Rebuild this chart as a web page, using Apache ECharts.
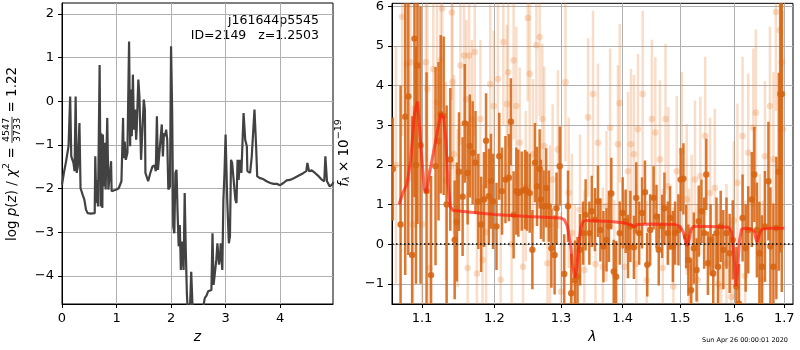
<!DOCTYPE html>
<html><head><meta charset="utf-8">
<script src="https://cdn.jsdelivr.net/npm/echarts@6/dist/echarts.min.js"></script>
<style>html,body{margin:0;padding:0;background:#fff}#c{width:800px;height:350px}</style>
</head><body><div id="c"></div><script>
// ---------- left panel: log p(z) ----------
const zGrid = [0,0.04,0.07,0.10,0.12,0.15,0.17,0.21,0.23,0.25,0.27,0.29,0.32,0.34,0.38,0.41,0.44,0.47,0.53,0.60,0.61,0.63,0.64,0.66,0.69,0.71,0.72,0.74,0.75,0.77,0.79,0.80,0.83,0.85,0.87,0.90,0.91,0.94,1.00,1.04,1.09,1.12,1.13,1.15,1.17,1.20,1.23,1.25,1.26,1.28,1.30,1.32,1.34,1.36,1.37,1.40,1.42,1.44,1.45,1.48,1.50,1.52,1.53,1.58,1.62,1.66,1.70,1.72,1.74,1.76,1.79,1.83,1.85,1.87,1.89,1.91,1.93,1.95,1.98,2.00,2.02,2.04,2.06,2.08,2.10,2.12,2.14,2.16,2.18,2.20,2.23,2.25,2.27,2.29,2.31,2.34,2.37,2.40,2.50,2.59,2.62,2.65,2.68,2.71,2.74,2.76,2.78,2.81,2.83,2.85,2.88,2.90,2.91,2.94,2.96,2.98,3.00,3.03,3.06,3.08,3.10,3.12,3.15,3.18,3.20,3.22,3.24,3.26,3.29,3.33,3.36,3.39,3.40,3.45,3.48,3.53,3.56,3.58,3.63,3.69,3.75,3.82,3.88,3.94,4.00,4.06,4.12,4.18,4.25,4.31,4.37,4.43,4.48,4.50,4.53,4.58,4.64,4.71,4.77,4.81,4.83,4.86,4.91,4.95,4.98];
const logPz = [-1.91,-1.60,-1.41,-1.38,-1.03,0.11,-1.26,-1.41,-1.60,0.11,-1.64,-1.49,-0.50,-1.99,-2.14,-2.25,-2.48,-2.56,-2.57,-2.56,-1.26,-2.33,-1.80,-2.41,0.83,-2.41,-0.73,-2.44,-0.76,-1.95,-0.95,-2.02,-0.38,-2.02,-1.99,-1.37,-2.06,-2.10,-2.02,-1.99,-1.83,-0.38,-1.30,-0.92,-1.34,-1.18,1.37,-1.03,0.27,-0.80,0.61,-0.65,-0.19,-0.88,-0.65,0.50,0.11,-0.88,-1.34,-1.37,0.04,-0.19,-1.64,-1.83,-1.64,-1.49,-1.47,-1.60,-0.34,-1.57,-1.53,-0.53,-1.26,-0.73,-0.80,-0.65,-0.88,-2.02,-1.95,1.26,-0.19,-2.86,-3.02,-1.64,-1.57,-2.56,-3.32,-2.83,-3.86,-3.21,-3.86,-2.10,-3.40,-4.39,-4.9,-4.99,-3.9,-4.9,-5.0,-4.7,-4.5,-4.45,-4.35,-4.38,-4.32,-3.02,-4.20,-4.16,-3.63,-3.25,-3.74,-3.55,-3.25,-3.86,-2.25,-1.64,-0.76,-2.25,-3.25,-3.09,-1.34,-1.41,-1.45,-2.25,-2.33,-1.34,-1.80,-1.34,-1.64,-0.27,-0.88,-1.03,-1.60,-1.64,-1.26,-0.19,-1.03,-1.72,-1.76,-1.78,-1.83,-1.87,-1.89,-1.89,-1.92,-1.87,-1.81,-1.80,-1.76,-1.72,-1.68,-1.64,-1.60,-1.41,-1.60,-1.58,-1.64,-1.72,-1.80,-1.83,-1.26,-1.83,-1.95,-1.91,-1.85];
const zTicks = [0,1,2,3,4];
const pzTicks = [-4,-3,-2,-1,0,1,2];

// ---------- right panel: spectrum ----------
const darkWave = [1.062,1.072,1.078,1.082,1.087,1.090,1.092,1.094,1.098,1.106,1.112,1.118,1.122,1.125,1.129,1.133,1.138,1.144,1.147,1.150,1.155,1.158,1.162,1.165,1.169,1.173,1.177,1.181,1.185,1.188,1.192,1.195,1.198,1.203,1.207,1.211,1.216,1.221,1.224,1.228,1.232,1.235,1.240,1.245,1.248,1.252,1.256,1.260,1.263,1.267,1.269,1.273,1.277,1.281,1.285,1.290,1.293,1.298,1.305,1.311,1.316,1.322,1.326,1.330,1.335,1.339,1.345,1.349,1.354,1.359,1.363,1.368,1.373,1.377,1.381,1.385,1.389,1.395,1.400,1.405,1.409,1.413,1.419,1.423,1.428,1.433,1.438,1.442,1.447,1.453,1.458,1.462,1.468,1.472,1.478,1.482,1.487,1.491,1.497,1.501,1.506,1.511,1.515,1.520,1.525,1.530,1.534,1.539,1.544,1.548,1.551,1.556,1.561,1.567,1.570,1.575,1.580,1.586,1.592,1.598,1.605,1.610,1.617,1.623,1.628,1.635,1.640,1.645,1.650,1.655,1.661,1.668,1.672,1.678,1.684,1.689,1.692,1.695];
const darkFlux = [1.9,0.5,3.22,3.73,-0.27,5.19,2.0,4.51,2.5,1.34,-0.78,1.97,2.6,3.28,3.24,1.0,2.14,0.11,0.56,1.83,1.2,3.05,1.80,2.48,2.31,2.06,1.08,0.5,1.13,2.61,1.21,1.59,1.08,0.45,2.22,1.34,1.63,1.68,3.09,0.74,1.34,1.29,1.34,1.38,1.34,1.29,-0.14,2.06,1.46,1.90,1.13,0.96,1.42,0.96,-0.10,-0.27,0.91,1.97,-0.75,0.96,-1.24,-0.91,-0.82,-0.14,0.28,0.74,0.28,0.83,0.62,1.08,0.36,-0.06,0.11,0.45,1.28,-0.69,-0.82,0.28,0.79,0.58,-0.06,0.45,-0.08,1.17,0.28,0.79,1.31,-0.52,0.36,1.17,0.70,-0.14,0.45,0.91,0.28,0.66,-0.06,0.28,0.36,1.63,1.65,0.19,-0.40,-1.16,-0.10,-0.65,0.58,0.83,0.28,1.76,-0.48,0.11,-0.74,0.28,-0.57,0.45,-0.14,0.28,-0.23,0.11,-1.07,-1.50,0.66,-0.10,0.36,1.13,1.76,0.36,-0.23,-0.57,0.45,1.59,-0.06,-0.57,0.41,1.83,3.79,3.79];
const darkErr = [1.3,3.5,4,4,3.5,4,3,4,3.5,3,2.5,2.5,2,2,2,2.5,1.8,1.5,1.5,1.5,1.5,1.5,1.3,1.3,1.3,1.3,1.2,1.2,1.2,1.2,1.2,1.2,1.2,1.1,1.1,1.1,1.1,1.1,1.1,1.1,1.1,1.1,1.0,1.0,1.0,1.0,1.0,1.0,1.0,1.0,1.0,0.9,1.0,0.9,1.0,1.0,0.9,1.0,1.0,0.9,1.0,1.0,1.0,0.9,0.8,0.9,0.8,0.9,0.8,0.9,0.8,0.9,0.8,0.9,0.9,0.8,0.9,0.8,0.9,0.8,0.8,0.9,0.8,0.9,0.8,0.9,0.8,0.8,0.9,0.8,0.8,0.9,0.8,0.9,0.8,0.8,0.9,0.8,0.9,0.8,0.9,0.8,0.9,0.8,0.9,0.8,0.9,0.8,0.9,0.9,0.8,0.9,1.0,0.9,1.0,0.9,1.0,0.9,1.0,1.0,1.0,1.0,1.1,1.1,1.1,1.2,1.2,1.2,1.3,1.3,1.4,1.5,1.5,1.6,1.8,2.5,4,5];

const lightWave = [1.066,1.074,1.080,1.085,1.088,1.092,1.096,1.100,1.105,1.107,1.110,1.115,1.120,1.125,1.127,1.132,1.140,1.141,1.143,1.148,1.152,1.157,1.160,1.162,1.164,1.168,1.172,1.175,1.180,1.183,1.188,1.194,1.199,1.205,1.209,1.213,1.218,1.220,1.225,1.228,1.232,1.237,1.242,1.246,1.249,1.252,1.257,1.262,1.267,1.271,1.274,1.279,1.283,1.287,1.295,1.300,1.307,1.312,1.317,1.322,1.330,1.337,1.343,1.351,1.355,1.359,1.367,1.373,1.379,1.386,1.392,1.395,1.403,1.409,1.414,1.419,1.423,1.426,1.434,1.441,1.450,1.456,1.464,1.469,1.474,1.479,1.488,1.494,1.503,1.512,1.516,1.521,1.527,1.532,1.537,1.546,1.555,1.564,1.570,1.576,1.586,1.595,1.600,1.607,1.617,1.622,1.628,1.638,1.643,1.651,1.657,1.661,1.671,1.678,1.683,1.691,1.695,1.697];
const lightFlux = [2.0,5.74,4.55,4.59,0.5,3.41,6.2,0.5,4.59,3.92,-0.6,4.42,3.58,4.64,5.95,1.6,5.85,4.09,2.27,0.91,4.51,4.76,3.66,-0.6,4.76,3.16,4.85,-0.74,3.16,-0.40,0.3,4.04,3.49,4.17,-0.9,5.10,3.54,4.34,0.0,4.64,3.49,2.56,-0.57,1.46,5.71,4.30,2.27,5.02,5.23,3.16,2.48,-0.48,0.5,1.63,2.39,-1.2,4.09,1.3,0.28,-1.0,0.87,-0.65,3.20,3.79,-0.5,2.56,-0.57,0.96,2.94,-0.78,2.52,3.56,-0.57,1.84,2.52,2.27,-0.5,2.90,3.79,-0.91,3.16,2.82,2.14,-0.6,3.16,1.46,-1.07,1.84,2.35,1.13,-0.6,0.36,1.63,-0.9,1.72,2.73,1.29,1.42,-1.0,-1.07,-0.48,-1.33,0.6,1.55,2.73,-0.8,2.31,2.94,3.32,-0.23,-0.9,2.22,3.49,2.14,5.86,5.40,4.59,2.90];
const lightErr = [3,3,3,3,3,3,3,2.5,2.5,2.5,2.5,2.5,2.5,2.5,2.5,2.5,2.2,2.2,2,2,2,2.1,2,1.9,2,2,2.1,1.9,2,1.9,2,2,1.9,2,1.9,2.1,2,1.9,2,2,2,1.9,2,1.9,2.1,2,1.9,2,2,1.9,2,1.9,2,1.9,2,2,2,1.9,2,2,1.9,2,2,2.1,1.9,2,2,1.9,2,1.9,2,2,1.9,2,1.9,2,2,1.9,2.1,2,2,1.9,2,2,1.9,2,2,1.9,2,1.9,2,1.9,2,1.9,2,2,1.9,2,2,1.9,2,1.9,2,2,2,1.9,2,2,2.1,2,2,1.9,2,2.2,2.5,3,3,3];

const modelWave = [1.070,1.075,1.080,1.085,1.090,1.094,1.098,1.103,1.106,1.110,1.115,1.120,1.125,1.129,1.132,1.135,1.138,1.142,1.20,1.25,1.29,1.300,1.305,1.310,1.315,1.318,1.322,1.325,1.328,1.331,1.335,1.34,1.38,1.40,1.415,1.42,1.425,1.45,1.49,1.500,1.506,1.510,1.513,1.516,1.520,1.525,1.57,1.590,1.596,1.600,1.604,1.607,1.611,1.615,1.62,1.635,1.640,1.645,1.648,1.651,1.655,1.67,1.70];
const modelFlux = [1.0,1.3,1.5,2.1,3.3,3.6,2.6,1.4,1.3,1.8,2.3,2.8,3.3,3.2,2.6,1.5,0.95,0.85,0.75,0.70,0.67,0.66,0.62,0.45,0.0,-0.5,-0.85,-0.6,0.0,0.4,0.58,0.60,0.57,0.54,0.48,0.44,0.50,0.51,0.50,0.45,0.3,0.05,-0.05,0.1,0.38,0.45,0.44,0.43,0.3,-0.2,-1.05,-0.7,0.1,0.38,0.40,0.38,0.3,0.05,0.05,0.28,0.38,0.40,0.40];
const waveTicks = [1.1,1.2,1.3,1.4,1.5,1.6,1.7];
const fluxTicks = [-1,0,1,2,3,4,5,6];

const objName = 'j161644p5545';
const objInfo = 'ID=2149   z=1.2503';
const stamp = 'Sun Apr 26 00:00:01 2020';

// ---------- helpers ----------
const FF = '"DejaVu Sans", sans-serif';
const minus = v => String(v).replace('-', '\u2212');
function axisCommon(ticks, fmt) {
  return {
    axisLine: {show: true, onZero: false, lineStyle: {color: '#000', width: 1}},
    axisTick: {show: true, length: 4, inside: false, lineStyle: {color: '#000', width: 1}, customValues: ticks},
    axisLabel: {show: true, color: '#000', fontSize: 13, fontFamily: FF, customValues: ticks, formatter: fmt},
    splitLine: {show: true, lineStyle: {color: '#b0b0b0', width: 1}, customValues: ticks}
  };
}
function errData(w, f, e) { return w.map((x, i) => [x, f[i], e[i]]); }
function errRender(color, width, r) {
  return function (params, api) {
    const x = api.value(0), y = api.value(1), e = api.value(2);
    const p0 = api.coord([x, y - e]), p1 = api.coord([x, y + e]), pc = api.coord([x, y]);
    return {type: 'group', children: [
      {type: 'line', shape: {x1: p0[0], y1: p0[1], x2: p1[0], y2: p1[1]}, style: {stroke: color, lineWidth: width}},
      {type: 'circle', shape: {cx: pc[0], cy: pc[1], r: r}, style: {fill: color}}
    ]};
  };
}
const mctx = document.createElement('canvas').getContext('2d');
function mathLabel(cx, cy, pieces) {
  const children = []; let x = 0;
  pieces.forEach(p => {
    if (p.num) {
      const font = p.size + 'px ' + FF; mctx.font = font;
      const w = Math.max(mctx.measureText(p.num).width, mctx.measureText(p.den).width) + 2;
      children.push({type: 'text', x0: x + w / 2, y: -p.off, style: {text: p.num, font: font, fill: '#000', align: 'center', verticalAlign: 'middle', textAlign: 'center', textVerticalAlign: 'middle'}});
      children.push({type: 'text', x0: x + w / 2, y: p.off, style: {text: p.den, font: font, fill: '#000', align: 'center', verticalAlign: 'middle', textAlign: 'center', textVerticalAlign: 'middle'}});
      children.push({type: 'line', x0: x, w: w, shape: {y1: 0, y2: 0}, style: {stroke: '#000', lineWidth: 0.8}});
      x += w;
    } else {
      const font = (p.it ? 'italic ' : '') + p.size + 'px ' + FF; mctx.font = font;
      const w = mctx.measureText(p.t).width;
      children.push({type: 'text', x0: x, y: p.dy || 0, style: {text: p.t, font: font, fill: '#000', align: 'left', verticalAlign: 'middle', textAlign: 'left', textVerticalAlign: 'middle'}});
      x += w;
    }
  });
  const half = x / 2;
  children.forEach(c => {
    if (c.type === 'line') { c.shape.x1 = c.x0 - half; c.shape.x2 = c.x0 + c.w - half; delete c.w; }
    else { c.x = c.x0 - half; }
    delete c.x0;
  });
  return {type: 'group', x: cx, y: cy, rotation: Math.PI / 2, children: children};
}

const chart = echarts.init(document.getElementById('c'), null, {renderer: 'canvas'});
chart.setOption({
  animation: false,
  backgroundColor: '#fff',
  grid: [
    {left: 62, top: 3, width: 271, height: 301, show: true, borderColor: '#000', borderWidth: 1, backgroundColor: 'transparent'},
    {left: 392, top: 3, width: 401, height: 301, show: true, borderColor: '#000', borderWidth: 1, backgroundColor: 'transparent'}
  ],
  xAxis: [
    Object.assign({type: 'value', gridIndex: 0, min: 0, max: 4.97, name: 'z', nameLocation: 'middle', nameGap: 26,
      nameTextStyle: {fontStyle: 'italic', fontSize: 14, color: '#000', fontFamily: FF}}, axisCommon(zTicks, v => String(v))),
    Object.assign({type: 'log', logBase: 10, gridIndex: 1, min: 1.061, max: 1.718, name: 'λ', nameLocation: 'middle', nameGap: 26,
      nameTextStyle: {fontStyle: 'italic', fontSize: 14, color: '#000', fontFamily: FF}}, axisCommon(waveTicks, v => Number(v).toFixed(1)))
  ],
  yAxis: [
    Object.assign({type: 'value', gridIndex: 0, min: -4.64, max: 2.25}, axisCommon(pzTicks, v => minus(v))),
    Object.assign({type: 'value', gridIndex: 1, min: -1.51, max: 6.08}, axisCommon(fluxTicks, v => minus(v)))
  ],
  series: [
    {type: 'line', xAxisIndex: 0, yAxisIndex: 0, data: zGrid.map((z, i) => [z, logPz[i]]), showSymbol: false, clip: true,
      lineStyle: {color: '#424242', width: 2.2}, z: 3},
    {type: 'custom', xAxisIndex: 1, yAxisIndex: 1, data: errData(lightWave, lightFlux, lightErr), encode: {x: 0, y: 1}, clip: true,
      renderItem: errRender('rgba(232,130,50,0.27)', 2.5, 3.3), z: 2},
    {type: 'custom', xAxisIndex: 1, yAxisIndex: 1, data: errData(darkWave, darkFlux, darkErr), encode: {x: 0, y: 1}, clip: true,
      renderItem: errRender('rgba(214,100,18,0.88)', 2.5, 3.2), z: 3},
    {type: 'line', xAxisIndex: 1, yAxisIndex: 1, data: modelWave.map((w, i) => [w, modelFlux[i]]), showSymbol: false, clip: true,
      smooth: false, lineStyle: {color: 'rgba(255,25,10,0.65)', width: 3}, z: 4,
      markLine: {silent: true, symbol: 'none', label: {show: false}, animation: false,
        lineStyle: {color: '#000', type: [1.5, 2.5], width: 1.5}, data: [{yAxis: 0}]}}
  ],
  graphic: [
    {type: 'text', x: 319, y: 21, style: {text: objName, font: '12.5px ' + FF, fill: '#000', align: 'right', verticalAlign: 'middle', textAlign: 'right', textVerticalAlign: 'middle'}},
    {type: 'text', x: 319, y: 36, style: {text: objInfo, font: '12.5px ' + FF, fill: '#000', align: 'right', verticalAlign: 'middle', textAlign: 'right', textVerticalAlign: 'middle'}},
    {type: 'text', x: 788, y: 340, style: {text: stamp, font: '6.5px ' + FF, fill: '#000', align: 'right', verticalAlign: 'middle', textAlign: 'right', textVerticalAlign: 'middle'}},
    mathLabel(12, 154, [
      {t: 'log ', size: 13.5}, {t: 'p', size: 13.5, it: true}, {t: '(', size: 13.5}, {t: 'z', size: 13.5, it: true},
      {t: ') / ', size: 13.5}, {t: 'χ', size: 13.5, it: true}, {t: '2', size: 9.5, dy: -5}, {t: ' = ', size: 13.5},
      {num: '4547', den: '3733', size: 9.5, off: 5.5}, {t: ' = 1.22', size: 13.5}
    ]),
    mathLabel(344, 153, [
      {t: 'f', size: 13.5, it: true}, {t: 'λ', size: 9.5, it: true, dy: 3}, {t: ' × 10', size: 13.5}, {t: '−19', size: 9.5, dy: -5}
    ])
  ]
});
</script></body></html>
